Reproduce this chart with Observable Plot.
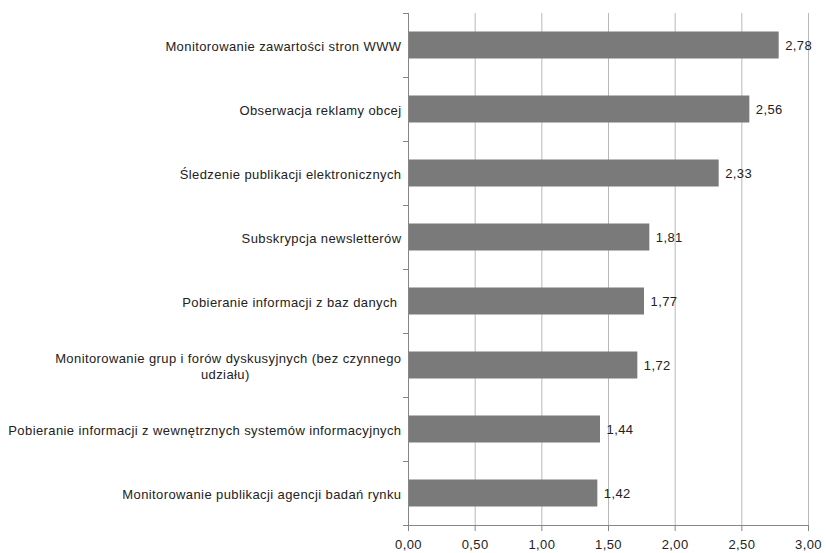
<!DOCTYPE html>
<html>
<head>
<meta charset="utf-8">
<script src="https://cdn.jsdelivr.net/npm/d3@7"></script>
<script src="https://cdn.jsdelivr.net/npm/@observablehq/plot@0.6"></script>
<style>
  html, body { margin: 0; padding: 0; background: #fff; }
  svg text { white-space: pre; letter-spacing: 0.4px; }
</style>
</head>
<body>
<div id="chart"></div>
<script>
const categories = [
  "Monitorowanie zawartości stron WWW",
  "Obserwacja reklamy obcej",
  "Śledzenie publikacji elektronicznych",
  "Subskrypcja newsletterów",
  "Pobieranie informacji z baz danych\u00a0",
  "Monitorowanie grup i forów dyskusyjnych (bez czynnego\nudziału)",
  "Pobieranie informacji z wewnętrznych systemów informacyjnych",
  "Monitorowanie publikacji agencji badań rynku"
];
const values = [2.78, 2.56, 2.33, 1.81, 1.77, 1.72, 1.44, 1.42];
const xTicks = [0, 0.5, 1, 1.5, 2, 2.5, 3];

const data = categories.map((c, i) => ({label: c, value: values[i]}));
const fmt = v => d3.format(".2f")(v).replace(".", ",");

const W = 826, H = 553, mT = 13, mB = 28, mL = 408, mR = 18;
const step = (H - mT - mB) / categories.length;
const axisColor = "#868686";

const chart = Plot.plot({
  width: W, height: H,
  marginTop: mT, marginBottom: mB, marginLeft: mL, marginRight: mR,
  style: {fontFamily: "'Liberation Sans', Arial, sans-serif", fontSize: "13px", color: "#222", background: "#fff"},
  x: {domain: [0, 3], label: null},
  y: {domain: categories, padding: 0, label: null},
  marks: [
    Plot.gridX(xTicks, {stroke: "#b8b8b8", strokeOpacity: 1}),
    Plot.barX(data, {x: "value", y: "label", fill: "#7a7a7a", insetTop: 18.5, insetBottom: 18.5}),
    Plot.text(data, {x: "value", y: "label", text: d => fmt(d.value), textAnchor: "start", dx: 6, fill: "#222"}),
    Plot.ruleX([0], {stroke: axisColor}),
    Plot.frame({anchor: "bottom", stroke: axisColor}),
    Plot.axisX(xTicks, {tickSize: 6, tickPadding: 8, tickFormat: fmt, stroke: axisColor, fill: "#222", label: null}),
    Plot.axisY({tickSize: 0, tickPadding: 7, fill: "#222", label: null, lineHeight: 1.25}),
    Plot.axisY({tickSize: 5, tickFormat: () => "", dy: -step / 2, stroke: axisColor, label: null}),
    Plot.axisY([categories[categories.length - 1]], {tickSize: 5, tickFormat: () => "", dy: step / 2, stroke: axisColor, label: null})
  ]
});
document.getElementById("chart").appendChild(chart);

// Center the continuation line of wrapped labels under the first line
chart.querySelectorAll("text").forEach(t => {
  const spans = t.querySelectorAll("tspan");
  if (spans.length === 2) {
    const w = spans[0].getComputedTextLength();
    const x0 = spans[0].getStartPositionOfChar(0).x;
    spans[1].setAttribute("text-anchor", "middle");
    spans[1].setAttribute("x", String(x0 + w / 2 - 3));
  }
});
</script>
</body>
</html>
